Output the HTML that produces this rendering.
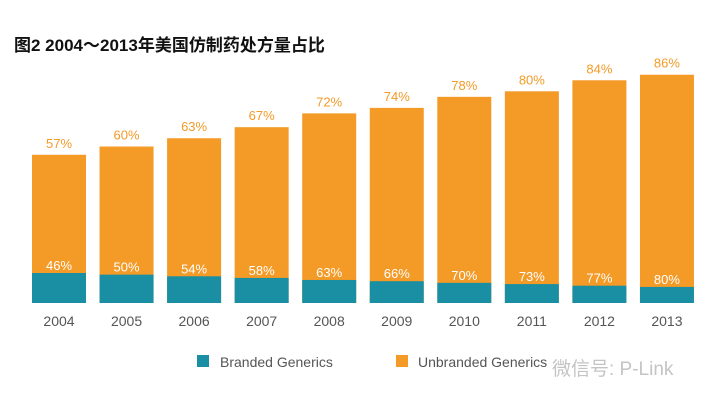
<!DOCTYPE html>
<html><head><meta charset="utf-8"><style>
body{margin:0;background:#fff;}
svg{display:block;font-family:"Liberation Sans","Noto Sans CJK SC",sans-serif;}
</style></head><body>
<svg id="c" width="722" height="404">
<text x="14" y="51" font-size="17" font-weight="bold" fill="#111">图2  2004～2013年美国仿制药处方量占比</text>
<g id="bars"></g>
<rect x="197" y="355" width="12" height="12" fill="#1a8fa3"/>
<text x="220" y="367" font-size="14" fill="#555">Branded Generics</text>
<rect x="396" y="355" width="12" height="12" fill="#f39a27"/>
<text x="418" y="367" font-size="14" fill="#555">Unbranded Generics</text>
<text x="552" y="375" font-size="19" fill="#c4c4c4">微信号: P-Link</text>
</svg>
<script>
const years=["2004","2005","2006","2007","2008","2009","2010","2011","2012","2013"];
const unbranded=[57,60,63,67,72,74,78,80,84,86];
const branded=[46,50,54,58,63,66,70,73,77,80];
const base=303, x0=32, pitch=67.55, bw=54;
function yU(v){return base-(v-3.3)*2.76;}
function yB(v){return base-(30-(v-46)*0.41);}
const g=document.getElementById('bars');
const NS='http://www.w3.org/2000/svg';
function mk(t,a){const e=document.createElementNS(NS,t);for(const k in a)e.setAttribute(k,a[k]);g.appendChild(e);return e;}
years.forEach((yr,i)=>{
  const x=x0+i*pitch;
  const r=mk('rect',{x:x,y:yU(unbranded[i]),width:bw,height:base-yU(unbranded[i]),fill:'#f39a27'});
  
  
  const b=mk('rect',{x:x,y:yB(branded[i]),width:bw,height:base-yB(branded[i]),fill:'#1a8fa3'});
  
  
  const t1=mk('text',{x:x+bw/2,y:yU(unbranded[i])-7,'font-size':13,fill:'#f39a27','text-anchor':'middle'});
  t1.textContent=unbranded[i]+'%';
  
  
  const t2=mk('text',{x:x+bw/2,y:yB(branded[i])-3,'font-size':13,fill:'#fff','text-anchor':'middle'});
  t2.textContent=branded[i]+'%';
  
  
  const t3=mk('text',{x:x+bw/2,y:326,'font-size':14,fill:'#555','text-anchor':'middle'});
  t3.textContent=yr;
  
  
});
</script>
</body></html>
